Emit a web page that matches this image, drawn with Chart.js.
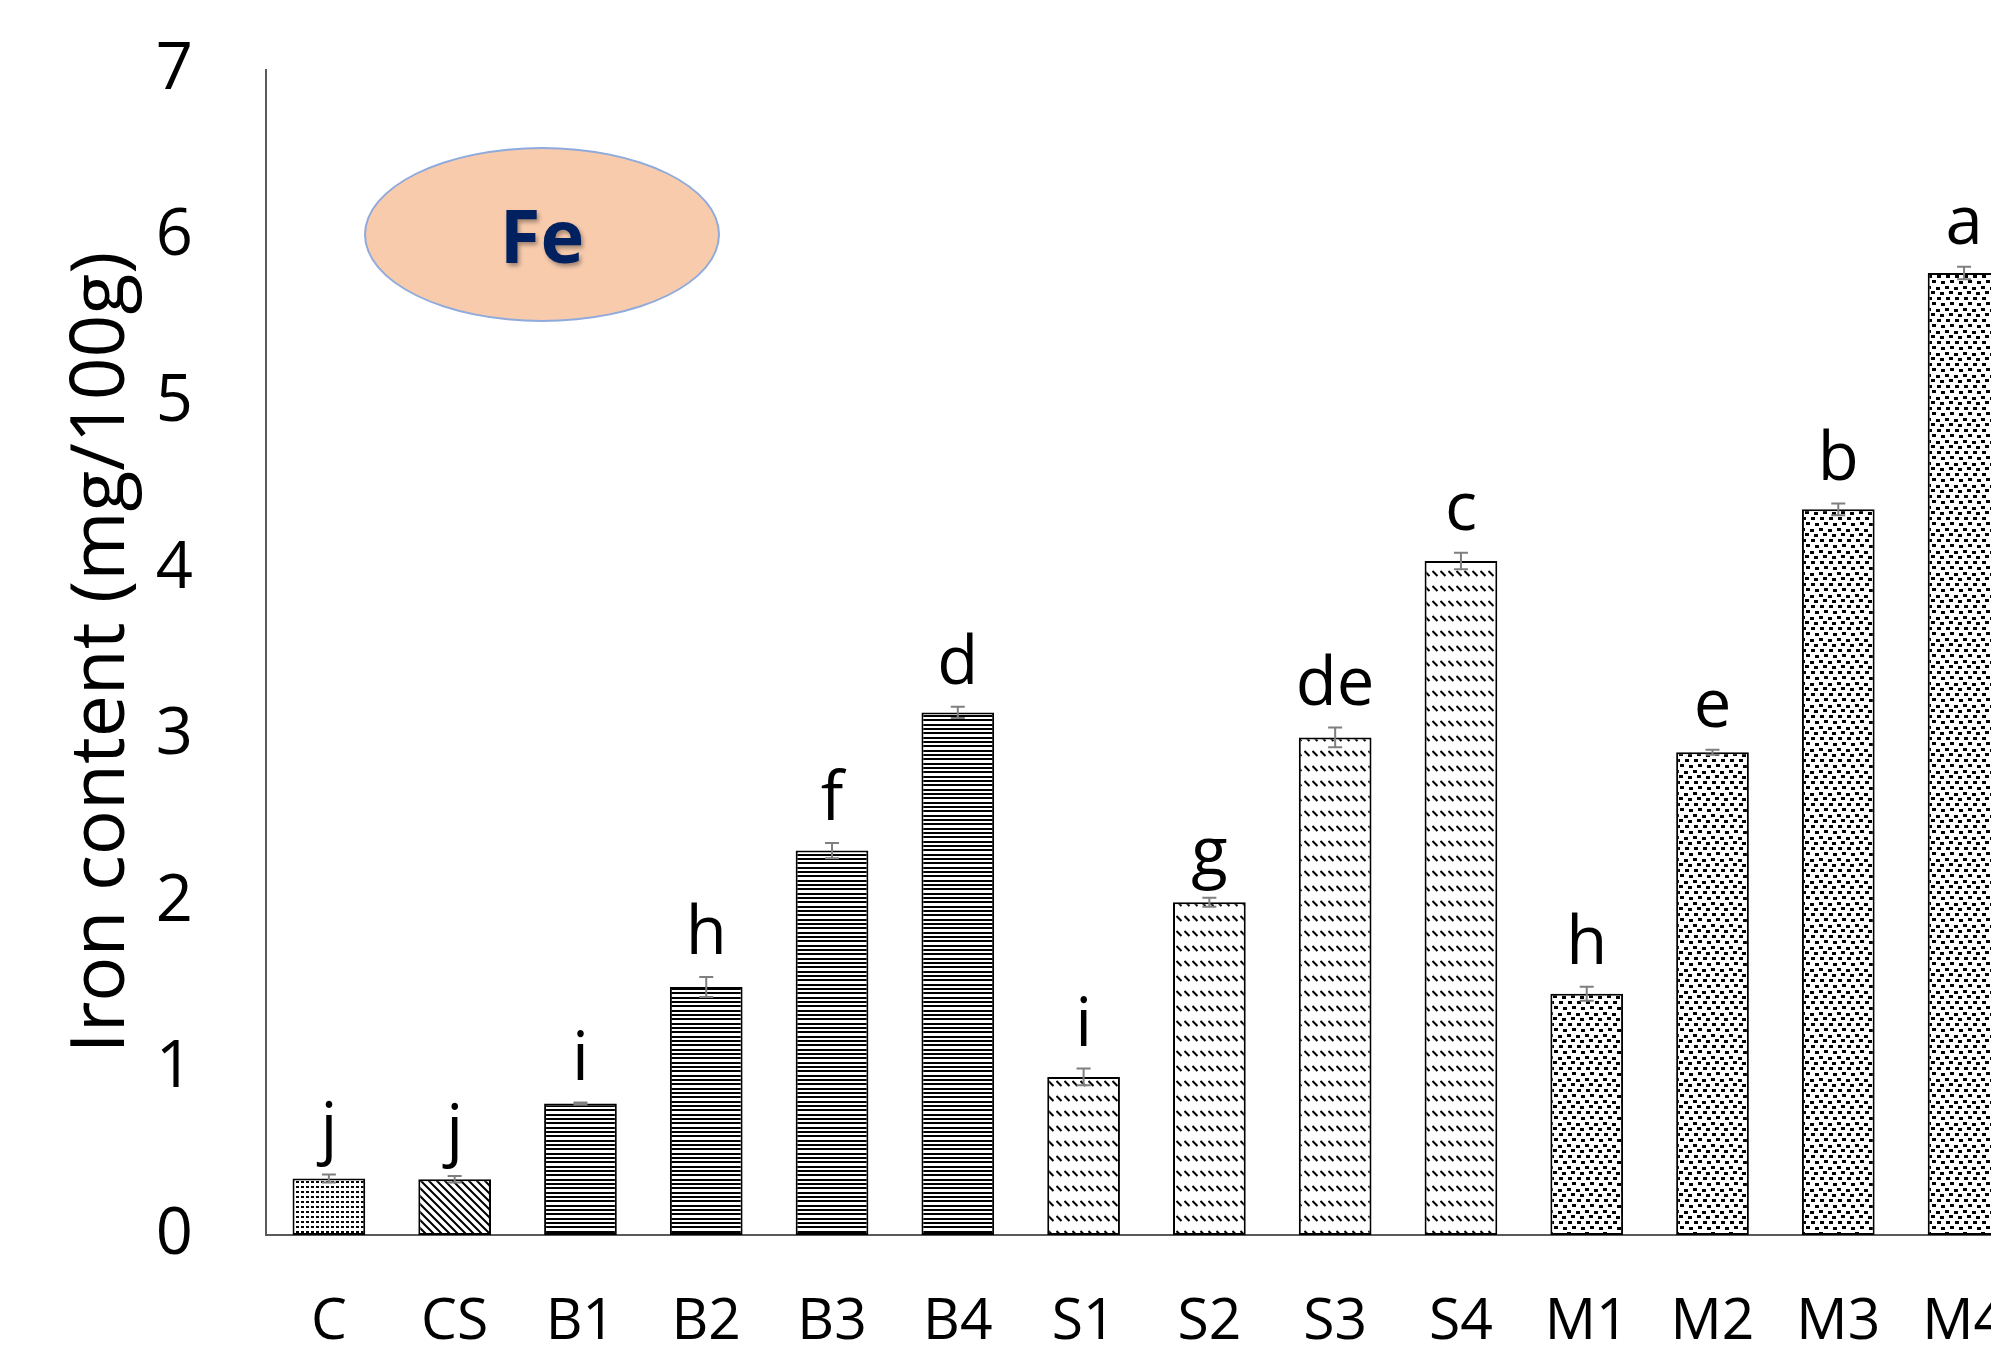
<!DOCTYPE html>
<html>
<head>
<meta charset="utf-8">
<script src="https://cdn.jsdelivr.net/npm/chart.js@4.4.1/dist/chart.umd.min.js"></script>
<style>
  html, body { margin: 0; padding: 0; background: #fff; overflow: hidden; }
  #wrap { position: relative; width: 1991px; height: 1347px; overflow: hidden; }
  #ironChart { position: absolute; left: 0; top: 0; }
  #fe {
    position: absolute; left: 364px; top: 147px; width: 352px; height: 171px;
    border-radius: 50%; background: #F8CBAD; border: 2.5px solid #8FAADC;
    display: flex; align-items: center; justify-content: center;
    font: bold 74px "Open Sans", sans-serif; color: #002060;
    text-shadow: 2px 3px 4px rgba(0,0,0,0.35);
  }
</style>
</head>
<body>
<div id="wrap">
  <canvas id="ironChart" width="2060" height="1347"></canvas>
  <div id="fe">Fe</div>
</div>
<script>
// treatments and Fe content (mg/100g)
var treatments = ['C', 'CS', 'B1', 'B2', 'B3', 'B4', 'S1', 'S2', 'S3', 'S4', 'M1', 'M2', 'M3', 'M4'];
var iron = [0.34, 0.335, 0.79, 1.49, 2.31, 3.14, 0.95, 2.0, 2.99, 4.05, 1.45, 2.9, 4.36, 5.78];
var ironSd = [0.024, 0.02, 0.006, 0.06, 0.046, 0.034, 0.05, 0.027, 0.059, 0.05, 0.042, 0.015, 0.036, 0.038];
var letters = ['j', 'j', 'i', 'h', 'f', 'd', 'i', 'g', 'de', 'c', 'h', 'e', 'b', 'a'];
var fillKind = ['dots', 'diag', 'hline', 'hline', 'hline', 'hline', 'dash', 'dash', 'dash', 'dash', 'confetti', 'confetti', 'confetti', 'confetti'];

// excel-like hatch fills
function makePattern(kind) {
  var c = document.createElement('canvas');
  var g = c.getContext('2d');
  var w = 8, h = 8;
  if (kind == 'dots') { w = 10; h = 10; }
  if (kind == 'hline') { w = 4; h = 13; }
  if (kind == 'dash') { w = 8; h = 15; }
  if (kind == 'confetti') { w = 18; h = 22; }
  c.width = w; c.height = h;
  g.fillStyle = '#fff';
  g.fillRect(0, 0, w, h);
  g.fillStyle = '#000';
  g.strokeStyle = '#000';
  if (kind == 'dots') {
    g.fillRect(1, 1, 3, 2);
    g.fillRect(6, 1, 3, 2);
    g.fillRect(1, 6, 3, 2);
    g.fillRect(6, 6, 3, 2);
  } else if (kind == 'diag') {
    g.lineWidth = 2;
    g.beginPath();
    g.moveTo(-1, -1); g.lineTo(9, 9);
    g.moveTo(-1, 7); g.lineTo(1, 9);
    g.moveTo(7, -1); g.lineTo(9, 1);
    g.stroke();
  } else if (kind == 'hline') {
    g.fillRect(0, 0, 4, 2);
    g.fillRect(0, 4, 4, 2);
    g.fillRect(0, 9, 4, 2);
  } else if (kind == 'dash') {
    g.lineWidth = 2;
    g.beginPath();
    g.moveTo(0.5, 1); g.lineTo(5.5, 6);
    g.stroke();
  } else if (kind == 'confetti') {
    g.fillRect(1, 0, 4, 3);
    g.fillRect(10, 1, 4, 3);
    g.fillRect(5, 5, 4, 3);
    g.fillRect(14, 6, 4, 3);
    g.fillRect(2, 11, 4, 3);
    g.fillRect(11, 11, 4, 3);
    g.fillRect(6, 16, 4, 3);
    g.fillRect(15, 17, 3, 3);
    g.fillRect(0, 17, 1, 3);
  }
  return g.createPattern(c, 'repeat');
}

var fills = fillKind.map(function (k) { return makePattern(k); });

// error bars + significance letters
var errorBars = {
  id: 'errorBars',
  afterDatasetsDraw: function (chart) {
    var ctx = chart.ctx;
    var y = chart.scales.y;
    var meta = chart.getDatasetMeta(0);
    ctx.save();
    meta.data.forEach(function (bar, i) {
      var x = bar.x;
      var top = y.getPixelForValue(iron[i] + ironSd[i]);
      var bot = y.getPixelForValue(iron[i] - ironSd[i]);
      ctx.strokeStyle = '#7f7f7f';
      ctx.lineWidth = 2;
      ctx.beginPath();
      ctx.moveTo(x, top); ctx.lineTo(x, bot);
      ctx.moveTo(x - 7, top); ctx.lineTo(x + 7, top);
      ctx.moveTo(x - 7, bot); ctx.lineTo(x + 7, bot);
      ctx.stroke();
      ctx.fillStyle = '#000';
      ctx.font = '67px "Open Sans"';
      ctx.textAlign = 'center';
      ctx.textBaseline = 'alphabetic';
      ctx.fillText(letters[i], x, top - 23);
    });
    ctx.restore();
  }
};

Chart.defaults.font.family = '"Open Sans"';
Chart.defaults.color = '#000';

var ctx = document.getElementById('ironChart').getContext('2d');
var ironChart = new Chart(ctx, {
  type: 'bar',
  data: {
    labels: treatments,
    datasets: [{
      label: 'Fe',
      data: iron,
      backgroundColor: fills,
      borderColor: '#000',
      borderWidth: 2,
      borderSkipped: false,
      categoryPercentage: 1,
      barPercentage: 0.578
    }]
  },
  options: {
    responsive: false,
    animation: false,
    layout: { padding: { top: 70, left: 0, right: 0, bottom: 0 } },
    plugins: {
      legend: { display: false },
      tooltip: { enabled: false }
    },
    scales: {
      x: {
        grid: { display: false, drawTicks: false },
        border: { display: true, color: '#595959', width: 2 },
        ticks: { font: { size: 57 }, padding: 54, maxRotation: 0, autoSkip: false },
        afterFit: function (s) { s.height = 112; }
      },
      y: {
        min: 0,
        max: 7,
        grid: { display: false, drawTicks: false },
        border: { display: true, color: '#595959', width: 2 },
        ticks: { stepSize: 1, font: { size: 65 }, padding: 73 },
        title: {
          display: true,
          text: 'Iron content (mg/100g)',
          font: { size: 75 },
          padding: { top: 58, bottom: 0 }
        },
        afterFit: function (s) {
          s.width = 266;
          // tick padding would otherwise push the plot top down
          s.paddingTop = 0;
          s.paddingBottom = 0;
        }
      }
    }
  },
  plugins: [errorBars]
});
</script>
</body>
</html>
